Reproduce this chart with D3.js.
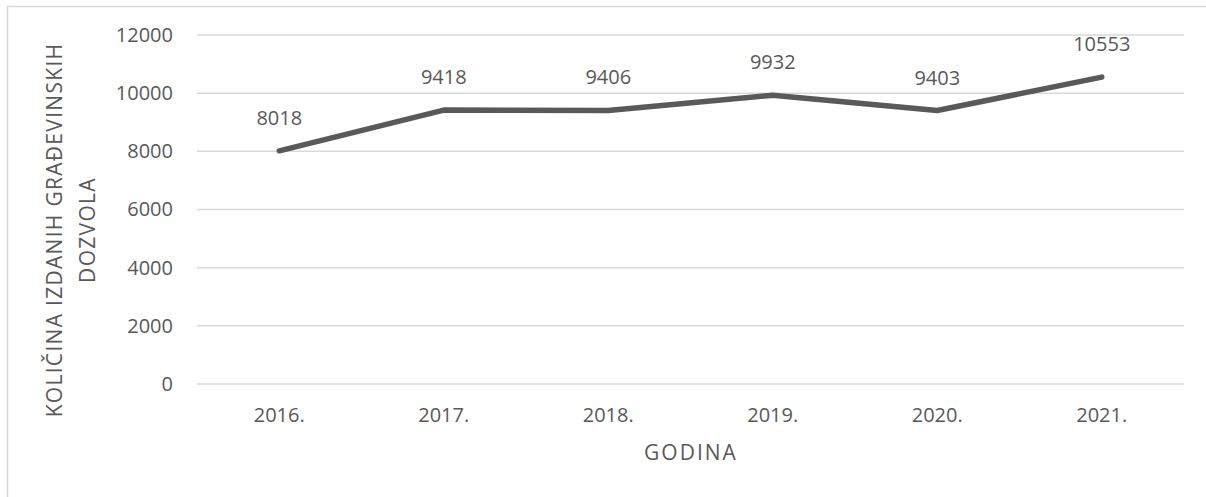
<!doctype html>
<html>
  <head>
    <meta charset="utf-8">
    <script src="https://d3js.org/d3.v7.min.js"></script>
    <style>
      body { margin: 0; background: #fff; }
      svg { display: block; }
      text { font-family: "Open Sans", sans-serif; fill: #595959; }
    </style>
  </head>
  <body>
    <script>
    // data
    var years = ["2016.", "2017.", "2018.", "2019.", "2020.", "2021."];
    var permits = [8018, 9418, 9406, 9932, 9403, 10553];
    var yTicks = [0, 2000, 4000, 6000, 8000, 10000, 12000];

    var width = 1206;
    var height = 497;

    var margin = { top: 35, right: 22, bottom: 113, left: 197 };

    var innerWidth = width - margin.left - margin.right;
    var innerHeight = height - margin.top - margin.bottom;

    var svg = d3.select("body")
              .append("svg")
              .attr("width", width)
              .attr("height", height);

    // chart border (only top and left edges are visible in the picture)
    svg.append("path")
      .attr("d", "M7.5," + height + "V6.5H" + width)
      .attr("fill", "none")
      .attr("stroke", "#d9d9d9")
      .attr("stroke-width", 1.5);

    var g = svg.append("g")
            .attr("transform", "translate(" + margin.left + "," + margin.top + ")");

    var x = d3.scaleBand()
              .domain(years)
              .range([0, innerWidth]);

    var y = d3.scaleLinear()
              .domain([0, 12000])
              .range([innerHeight, 0]);

    // gridlines
    g.selectAll(".grid")
      .data(yTicks)
      .enter()
      .append("line")
      .attr("x1", 0)
      .attr("x2", innerWidth)
      .attr("y1", function(d) { return y(d); })
      .attr("y2", function(d) { return y(d); })
      .attr("stroke", "#d9d9d9")
      .attr("stroke-width", 1.5);

    // y axis labels
    var yAxis = g.append("g")
      .call(d3.axisLeft(y).tickValues(yTicks).tickSize(0).tickPadding(24).tickFormat(d3.format("d")));
    yAxis.select(".domain").remove();
    yAxis.selectAll("text")
      .attr("font-size", "20px")
      .style("font-family", '"Open Sans", sans-serif')
      .attr("fill", "#595959");

    // x axis labels
    var xAxis = g.append("g")
      .attr("transform", "translate(0," + innerHeight + ")")
      .call(d3.axisBottom(x).tickSize(0).tickPadding(24));
    xAxis.select(".domain").remove();
    xAxis.selectAll("text")
      .attr("font-size", "20px")
      .style("font-family", '"Open Sans", sans-serif')
      .attr("fill", "#595959");

    // line
    var line = d3.line()
      .x(function(d, i) { return x(years[i]) + x.bandwidth() / 2; })
      .y(function(d) { return y(d); });

    g.append("path")
      .datum(permits)
      .attr("d", line)
      .attr("fill", "none")
      .attr("stroke", "#595959")
      .attr("stroke-width", 5.5)
      .attr("stroke-linecap", "round")
      .attr("stroke-linejoin", "round");

    // data labels
    g.selectAll(".lbl")
      .data(permits)
      .enter()
      .append("text")
      .attr("x", function(d, i) { return x(years[i]) + x.bandwidth() / 2; })
      .attr("y", function(d) { return y(d) - 33; })
      .attr("dy", "0.35em")
      .attr("text-anchor", "middle")
      .attr("font-size", "20px")
      .text(function(d) { return d; });

    // axis titles
    svg.append("text")
      .attr("x", 691)
      .attr("y", 453)
      .attr("dy", "0.35em")
      .attr("text-anchor", "middle")
      .attr("font-size", "21px")
      .attr("letter-spacing", "2px")
      .text("GODINA");

    var yt = svg.append("text")
      .attr("transform", "translate(71,230) rotate(-90)")
      .attr("text-anchor", "middle")
      .attr("font-size", "21px")
      .attr("letter-spacing", "1.3px");
    yt.append("tspan").attr("x", 0).attr("y", -16).attr("dy", "0.35em").text("KOLIČINA IZDANIH GRAĐEVINSKIH");
    yt.append("tspan").attr("x", 0).attr("y", 17).attr("dy", "0.35em").text("DOZVOLA");
    </script>
  </body>
</html>
